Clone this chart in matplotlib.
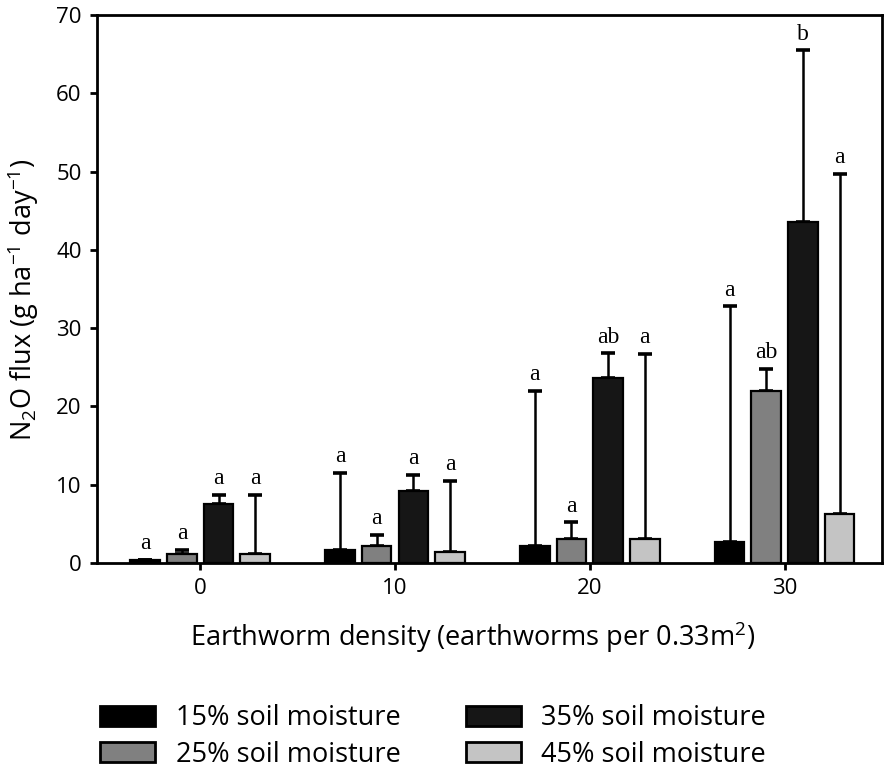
import numpy as np
import matplotlib.pyplot as plt
from matplotlib.patches import Patch

densities = ["0", "10", "20", "30"]
series = ["15% soil moisture", "25% soil moisture", "35% soil moisture", "45% soil moisture"]

means = {
    "15%": [0.4, 1.6, 2.2, 2.7],
    "25%": [1.2, 2.2, 3.1, 22.0],
    "35%": [7.5, 9.2, 23.6, 43.5],
    "45%": [1.2, 1.4, 3.1, 6.2],
}
# top of upper error bar
err_top = {
    "15%": [0.4, 11.5, 22.0, 32.8],
    "25%": [1.7, 3.6, 5.2, 24.8],
    "35%": [8.7, 11.3, 26.8, 65.5],
    "45%": [8.7, 10.5, 26.7, 49.7],
}
letters = {
    "15%": ["a", "a", "a", "a"],
    "25%": ["a", "a", "a", "ab"],
    "35%": ["a", "a", "ab", "b"],
    "45%": ["a", "a", "a", "a"],
}

colors = ["#000000", "#808080", "#161616", "#c4c4c4"]
offsets = [-0.282, -0.094, 0.094, 0.282]
width = 0.152

sans = "Open Sans"
serif = "Liberation Serif"
plt.rcParams["mathtext.fontset"] = "custom"
plt.rcParams["mathtext.rm"] = sans
plt.rcParams["mathtext.it"] = sans
plt.rcParams["mathtext.bf"] = sans

fig = plt.figure(figsize=(8.84, 7.69), dpi=100)
ax = fig.add_axes([0.1097, 0.2679, 0.8880, 0.7126])

x = np.arange(len(densities))
for k, key in enumerate(means):
    m = np.array(means[key])
    e = np.array(err_top[key]) - m
    pos = x + offsets[k]
    ax.bar(pos, m, width, color=colors[k], edgecolor="black", linewidth=1.6, zorder=2)
    ax.errorbar(pos, m, yerr=[np.zeros_like(e), e], fmt="none", ecolor="black",
                elinewidth=1.8, capsize=4.8, capthick=2.6, zorder=1)
    for xi, top, lab in zip(pos, err_top[key], letters[key]):
        ax.annotate(lab, (xi, top), xytext=(0, 4), textcoords="offset points",
                    ha="center", va="bottom", fontsize=17, family=serif)

ax.set_xlim(-0.53, 3.50)
ax.set_ylim(0, 70)
ax.set_xticks(x)
ax.set_xticklabels(densities)
ax.set_yticks(np.arange(0, 71, 10))
for s in ax.spines.values():
    s.set_linewidth(2)
ax.tick_params(width=2, length=5, labelsize=16, pad=6)
for t in ax.get_xticklabels() + ax.get_yticklabels():
    t.set_family(sans)

ax.set_ylabel(r"N$_2$O flux (g ha$^{-1}$ day$^{-1}$)", fontsize=19.5, family=sans)
ax.set_xlabel(r"Earthworm density (earthworms per 0.33m$^2$)", fontsize=19.5, family=sans)
ax.yaxis.set_label_coords(-0.071, 0.48)
ax.xaxis.set_label_coords(0.479, -0.104)

handles = [Patch(facecolor=c, edgecolor="black", linewidth=2) for c in colors]
fig.legend(handles, series, ncol=2,
           loc="upper left", bbox_to_anchor=(0.113, 0.084), frameon=False,
           prop={"family": sans, "size": 19.5}, handlelength=2.05, handleheight=0.75,
           columnspacing=2.4, labelspacing=0.3, handletextpad=0.75,
           borderpad=0, borderaxespad=0)

fig.savefig("out.png", dpi=100)
